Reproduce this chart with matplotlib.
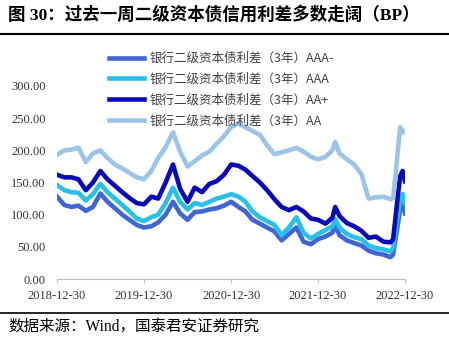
import matplotlib
matplotlib.use("Agg")
import matplotlib.pyplot as plt
from matplotlib.lines import Line2D
import datetime as dt

# ---- data ----
monthly = []
for k in range(47):
    y = 2018 + (11 + k) // 12
    m = (11 + k) % 12 + 1
    d = 28 if m == 2 else 30
    monthly.append(f"{y}-{m:02d}-{d:02d}")
dates = monthly[:39] + ["2022-03-12"] + monthly[39:] + [
    "2022-11-10", "2022-11-20", "2022-11-30", "2022-12-10", "2022-12-20", "2022-12-30"]

aaa_minus = [128, 115, 112, 114, 106, 112, 133, 120, 110, 100, 92, 84,
             80, 82, 88, 100, 120, 102, 92, 104, 105, 108, 110, 114,
             120, 112, 105, 92, 86, 80, 74, 60, 70, 80, 58, 54,
             62, 66, 72, 84, 68, 60, 56, 52, 44, 40, 38, 34,
             38, 62, 85, 110, 118, 102]
aaa = [146, 138, 135, 134, 122, 132, 148, 135, 125, 115, 105, 94,
       90, 96, 100, 118, 142, 120, 108, 118, 115, 120, 125, 128,
       132, 128, 120, 105, 96, 90, 84, 68, 80, 96, 72, 63,
       70, 76, 82, 93, 80, 70, 65, 62, 52, 48, 46, 43,
       48, 75, 100, 125, 132, 118]
aa_plus = [162, 158, 158, 155, 138, 150, 168, 155, 145, 135, 126, 118,
           116, 128, 125, 150, 178, 140, 120, 142, 135, 148, 152, 162,
           178, 176, 170, 160, 150, 138, 124, 112, 107, 112, 105, 94,
           92, 86, 95, 112, 98, 87, 82, 75, 64, 66, 58, 57,
           62, 95, 130, 160, 168, 152]
aa = [193, 200, 201, 204, 182, 195, 200, 188, 178, 172, 165, 158,
      155, 168, 188, 205, 228, 198, 175, 183, 192, 198, 210, 222,
      236, 242, 236, 230, 224, 208, 194, 197, 200, 204, 198, 190,
      186, 190, 200, 213, 195, 186, 178, 163, 125, 127, 128, 124,
      126, 160, 200, 236, 228, 230]

labels = ["银行二级资本债利差（3年）AAA-", "银行二级资本债利差（3年）AAA",
          "银行二级资本债利差（3年）AA+", "银行二级资本债利差（3年）AA"]
colors = ["#3F66D2", "#28C0E8", "#0A0AB8", "#9CC3EA"]
x_ticks = ["2018-12-30", "2019-12-30", "2020-12-30", "2021-12-30", "2022-12-30"]
y_ticks = [0, 50, 100, 150, 200, 250, 300]

cjk = ["Liberation Serif", "Noto Sans CJK SC"]
plt.rcParams["font.family"] = ["Noto Sans CJK SC", "DejaVu Sans"]

W, H = 449, 352
fig = plt.figure(figsize=(W / 100, H / 100), dpi=100)

to_dt = lambda s: dt.datetime.strptime(s, "%Y-%m-%d")
xd = [to_dt(s) for s in dates]

ax = fig.add_axes([57 / W, 1 - 279 / H, (405 - 57) / W, (279 - 86) / H])
series = [aaa_minus, aaa, aa_plus, aa]
for vals, c, lab in zip(series, colors, labels):
    ax.plot(xd, vals, color=c, lw=3.3, label=lab, solid_joinstyle="round")

ax.set_xlim(to_dt(x_ticks[0]), to_dt(x_ticks[-1]))
ax.set_ylim(0, 300)
ax.set_xticks([to_dt(s) for s in x_ticks])
ax.set_xticklabels(x_ticks, fontfamily="Liberation Serif", fontsize=9, color="#333333")
ax.set_yticks(y_ticks)
ax.set_yticklabels([f"{v:.2f}" for v in y_ticks], fontfamily="Liberation Serif",
                   fontsize=9, color="#333333")
ax.tick_params(axis="y", length=0, pad=8)
ax.tick_params(axis="x", length=3, pad=5, color="#BFBFBF")
for s in ["top", "right", "left"]:
    ax.spines[s].set_visible(False)
ax.spines["bottom"].set_color("#BFBFBF")
ax.patch.set_alpha(0)

leg = fig.legend(loc="upper left", bbox_to_anchor=(109 / W, 1 - 52 / H), frameon=False,
                 fontsize=9, handlelength=2.8, handletextpad=0.45, labelspacing=0.62,
                 borderpad=0, borderaxespad=0)
for t in leg.get_texts():
    t.set_color("#404040")
for h in leg.legend_handles:
    h.set_linewidth(3.3)

fig.text(8 / W, 1 - 15 / H, "图 30：过去一周二级资本债信用利差多数走阔（BP）",
         fontfamily=cjk, fontsize=12.6, fontweight="bold", va="center", ha="left")
fig.add_artist(Line2D([0, 1], [1 - 34 / H, 1 - 34 / H], color="black", lw=1.5,
                      transform=fig.transFigure))
fig.add_artist(Line2D([0, 1], [1 - 313 / H, 1 - 313 / H], color="black", lw=1.2,
                      transform=fig.transFigure))
fig.text(8 / W, 1 - 327 / H, "数据来源：Wind，国泰君安证券研究",
         fontfamily=cjk, fontsize=11.2, va="center", ha="left")

fig.savefig("out.png", dpi=100)
